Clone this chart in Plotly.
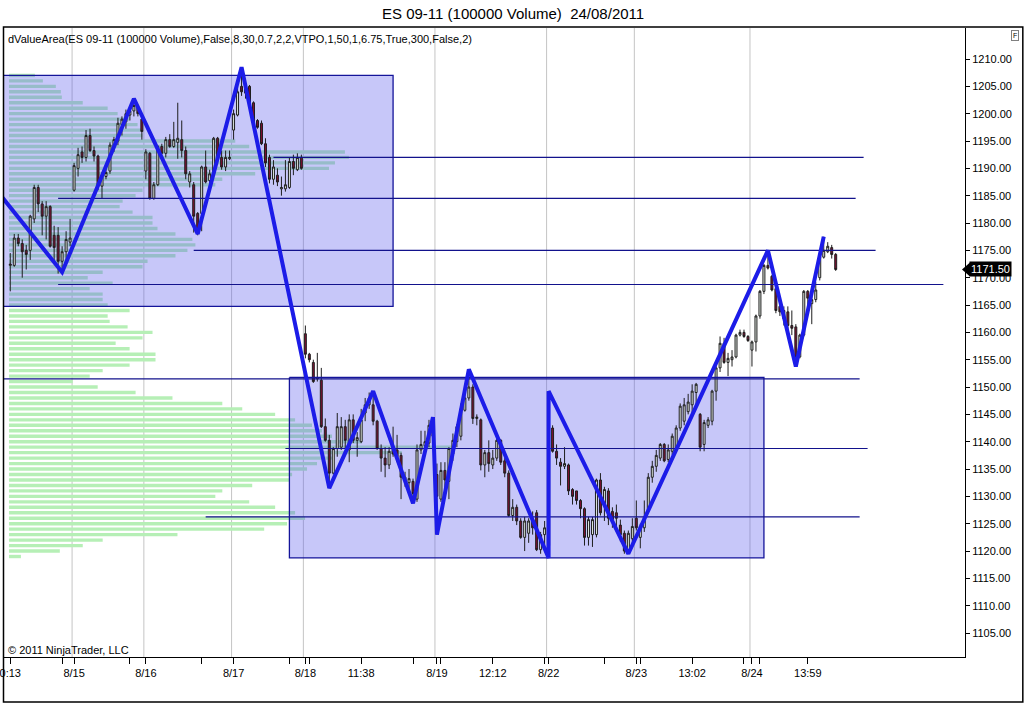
import plotly.graph_objects as go

# ---- price bars (one candle per 100000-volume bar) ----
bar_open = [
    1172.25, 1172.25, 1177.25, 1176.25, 1175.0, 1175.0, 1180.75, 1186.5, 1183.5, 1181.25,
    1183.0, 1177.75, 1177.75, 1173.0, 1174.75, 1176.5, 1186.0, 1190.0, 1193.0, 1192.0,
    1196.0, 1193.25, 1192.25, 1186.75, 1188.5, 1189.5, 1194.0, 1195.0, 1198.0, 1198.5,
    1199.75, 1200.5, 1201.25, 1199.0, 1189.5, 1192.75, 1184.5, 1187.0, 1194.0, 1192.75,
    1195.25, 1194.0, 1194.75, 1195.25, 1193.25, 1187.5, 1187.0, 1181.75, 1181.75, 1190.25,
    1187.75, 1189.0, 1195.5, 1192.0, 1190.25, 1191.75, 1197.0, 1199.75, 1205.0, 1203.75,
    1205.0, 1202.0, 1198.75, 1198.25, 1194.5, 1192.0, 1188.0, 1188.75, 1186.25, 1186.25,
    1186.5, 1191.25, 1189.75, 1192.0, 1159.75, 1156.0, 1154.5, 1151.5, 1151.25, 1142.75,
    1140.25, 1134.25, 1138.75, 1139.0, 1142.75, 1138.5, 1144.0, 1140.25, 1140.0, 1145.25,
    1146.75, 1146.75, 1143.75, 1138.75, 1137.0, 1135.75, 1139.0, 1138.5, 1137.5, 1133.5,
    1132.5, 1132.75, 1129.5, 1138.5, 1139.25, 1139.75, 1143.0, 1134.0, 1129.5, 1134.75,
    1132.75, 1137.75, 1140.0, 1141.0, 1145.75, 1148.0, 1150.0, 1144.25, 1144.0, 1135.75,
    1138.0, 1135.75, 1137.0, 1140.25, 1136.5, 1134.25, 1126.5, 1128.0, 1125.5, 1122.5,
    1123.25, 1125.5, 1127.0, 1120.25, 1123.0, 1121.0, 1142.5, 1138.25, 1136.25, 1135.5,
    1135.75, 1131.25, 1131.0, 1129.25, 1127.75, 1122.5, 1123.0, 1123.0, 1133.0, 1128.5,
    1131.0, 1127.25, 1127.0, 1124.75, 1123.25, 1120.25, 1122.25, 1126.0, 1122.5, 1124.25,
    1127.5, 1133.5, 1135.5, 1137.0, 1139.5, 1136.75, 1138.25, 1138.75, 1142.5, 1143.75,
    1145.5, 1146.75, 1149.0, 1145.0, 1139.5, 1143.0, 1143.75, 1149.25, 1153.5, 1158.0,
    1154.5, 1155.0, 1155.5, 1159.5, 1160.0, 1159.25, 1156.75, 1158.25, 1163.0, 1167.5,
    1172.25, 1170.25, 1168.0, 1164.75, 1164.0, 1163.75, 1161.25, 1161.0, 1155.5, 1159.5,
    1167.5, 1165.25, 1166.0, 1170.0, 1173.75, 1174.75, 1175.5, 1174.25,
]
bar_high = [
    1174.5, 1178.0, 1178.0, 1177.0, 1176.0, 1181.5, 1187.0, 1187.0, 1184.0, 1184.0,
    1183.25, 1179.5, 1179.25, 1175.75, 1178.5, 1180.75, 1191.0, 1193.75, 1194.0, 1197.0,
    1197.25, 1194.0, 1192.5, 1189.25, 1190.0, 1194.75, 1195.75, 1199.25, 1199.5, 1200.75,
    1201.25, 1202.75, 1201.5, 1200.0, 1193.5, 1193.0, 1187.5, 1194.25, 1194.5, 1195.75,
    1196.25, 1198.5, 1202.0, 1198.75, 1194.0, 1189.5, 1187.5, 1182.0, 1190.5, 1193.25,
    1189.75, 1195.75, 1195.75, 1193.25, 1193.25, 1193.25, 1200.75, 1205.0, 1208.5, 1205.25,
    1205.25, 1202.25, 1199.0, 1198.75, 1195.5, 1192.5, 1191.5, 1190.0, 1188.5, 1191.5,
    1192.0, 1192.5, 1192.75, 1192.5, 1161.25, 1156.25, 1155.0, 1156.25, 1153.5, 1144.25,
    1141.25, 1139.0, 1145.25, 1144.5, 1144.0, 1145.0, 1145.0, 1141.75, 1146.0, 1148.0,
    1149.0, 1149.25, 1144.0, 1139.5, 1139.0, 1139.0, 1142.75, 1141.25, 1138.0, 1134.5,
    1135.0, 1133.25, 1139.5, 1142.0, 1142.0, 1144.0, 1144.5, 1136.0, 1136.25, 1136.25,
    1139.0, 1141.5, 1143.25, 1147.0, 1150.5, 1153.25, 1150.5, 1145.0, 1144.25, 1138.5,
    1140.25, 1138.5, 1141.5, 1140.5, 1137.0, 1134.75, 1129.5, 1128.5, 1126.0, 1126.25,
    1126.0, 1127.25, 1127.5, 1123.5, 1125.5, 1149.25, 1143.0, 1139.5, 1137.0, 1139.0,
    1136.0, 1131.5, 1131.0, 1129.5, 1128.0, 1126.25, 1126.25, 1133.25, 1134.25, 1131.75,
    1131.5, 1128.0, 1128.5, 1125.75, 1123.75, 1123.75, 1126.0, 1129.25, 1125.0, 1129.25,
    1134.25, 1136.5, 1138.5, 1139.75, 1139.75, 1139.5, 1141.5, 1143.0, 1147.0, 1148.0,
    1148.75, 1150.5, 1150.75, 1145.25, 1144.0, 1144.5, 1149.5, 1154.0, 1159.25, 1159.0,
    1156.25, 1156.75, 1159.75, 1160.5, 1160.5, 1159.5, 1158.5, 1163.25, 1167.75, 1172.5,
    1175.0, 1170.5, 1168.5, 1165.0, 1164.75, 1164.75, 1164.0, 1161.5, 1159.75, 1167.75,
    1167.75, 1166.5, 1169.25, 1174.0, 1177.5, 1176.5, 1176.0, 1174.5,
]
bar_low = [
    1167.5, 1172.0, 1175.75, 1170.0, 1171.5, 1173.25, 1180.0, 1182.0, 1177.75, 1177.0,
    1175.5, 1172.5, 1170.75, 1170.75, 1173.25, 1175.75, 1185.75, 1188.5, 1191.0, 1191.25,
    1193.0, 1191.25, 1186.0, 1184.5, 1188.0, 1189.0, 1193.0, 1194.25, 1196.0, 1197.25,
    1198.75, 1199.5, 1199.5, 1195.25, 1188.0, 1184.25, 1184.25, 1186.75, 1192.5, 1192.0,
    1193.75, 1193.75, 1191.75, 1192.0, 1188.0, 1186.5, 1178.25, 1177.75, 1178.5, 1187.25,
    1185.75, 1188.75, 1191.5, 1189.75, 1189.5, 1191.5, 1195.25, 1199.5, 1203.25, 1202.75,
    1201.25, 1198.0, 1197.25, 1194.25, 1190.25, 1187.25, 1187.0, 1186.75, 1185.0, 1185.75,
    1186.25, 1188.75, 1189.5, 1189.75, 1155.25, 1154.5, 1150.75, 1151.0, 1142.5, 1140.0,
    1131.5, 1134.0, 1137.25, 1138.5, 1138.75, 1136.25, 1139.75, 1137.25, 1139.75, 1143.75,
    1146.0, 1143.0, 1138.5, 1134.5, 1133.5, 1135.0, 1137.25, 1136.25, 1129.5, 1131.75,
    1130.5, 1128.75, 1129.0, 1137.75, 1137.75, 1139.0, 1140.5, 1123.0, 1129.0, 1131.25,
    1129.5, 1136.5, 1139.0, 1140.25, 1145.5, 1147.5, 1143.25, 1143.0, 1134.75, 1133.5,
    1134.5, 1135.0, 1136.5, 1135.75, 1133.5, 1126.25, 1125.5, 1124.75, 1122.25, 1120.0,
    1121.5, 1123.0, 1120.0, 1119.5, 1121.0, 1118.75, 1138.0, 1135.75, 1132.0, 1135.0,
    1130.25, 1128.5, 1128.5, 1126.0, 1121.0, 1121.0, 1120.75, 1122.5, 1126.5, 1125.5,
    1124.75, 1124.25, 1123.5, 1121.75, 1119.5, 1119.5, 1120.75, 1123.75, 1120.5, 1123.5,
    1127.25, 1132.5, 1134.5, 1136.5, 1136.25, 1136.25, 1137.5, 1138.25, 1142.0, 1143.0,
    1145.0, 1145.0, 1146.75, 1138.25, 1138.25, 1142.5, 1143.0, 1147.5, 1152.75, 1154.25,
    1152.0, 1153.75, 1155.25, 1159.25, 1159.0, 1158.25, 1153.75, 1156.5, 1162.5, 1167.0,
    1171.5, 1167.5, 1163.5, 1163.0, 1161.25, 1159.0, 1159.5, 1153.75, 1155.25, 1159.25,
    1164.0, 1161.5, 1165.5, 1169.5, 1173.5, 1174.5, 1173.5, 1171.25,
]
bar_close = [
    1172.5, 1177.25, 1176.25, 1174.75, 1174.25, 1181.25, 1186.5, 1183.5, 1181.25, 1183.0,
    1175.75, 1175.5, 1173.0, 1174.75, 1177.0, 1177.25, 1190.5, 1192.5, 1192.0, 1196.0,
    1193.25, 1192.25, 1186.75, 1188.5, 1189.25, 1194.25, 1195.25, 1198.25, 1199.0, 1200.0,
    1200.5, 1201.5, 1200.0, 1196.75, 1193.0, 1184.5, 1187.0, 1194.0, 1192.75, 1195.25,
    1194.0, 1195.25, 1195.5, 1193.25, 1189.0, 1189.0, 1181.25, 1178.25, 1190.25, 1187.5,
    1189.0, 1195.5, 1192.0, 1190.25, 1192.0, 1192.0, 1200.0, 1204.0, 1204.0, 1204.5,
    1201.5, 1198.25, 1197.5, 1194.5, 1191.0, 1188.0, 1190.25, 1187.5, 1186.5, 1187.0,
    1191.25, 1190.0, 1192.0, 1190.0, 1156.0, 1155.0, 1151.0, 1151.75, 1142.75, 1140.25,
    1134.25, 1138.75, 1142.75, 1142.75, 1140.25, 1144.0, 1140.25, 1140.75, 1144.0, 1146.75,
    1148.0, 1143.75, 1138.75, 1137.0, 1135.75, 1138.25, 1137.75, 1137.25, 1133.5, 1133.0,
    1133.25, 1130.5, 1138.5, 1139.5, 1140.0, 1143.0, 1141.0, 1130.0, 1134.75, 1133.0,
    1138.75, 1140.25, 1142.75, 1146.0, 1148.0, 1150.0, 1144.25, 1144.5, 1135.75, 1138.0,
    1136.0, 1137.0, 1140.25, 1136.25, 1134.25, 1126.5, 1128.0, 1125.5, 1122.5, 1125.5,
    1125.5, 1124.25, 1120.25, 1123.0, 1124.25, 1142.5, 1138.25, 1137.0, 1135.5, 1136.0,
    1131.0, 1130.0, 1129.25, 1127.75, 1122.5, 1125.75, 1125.75, 1133.0, 1127.0, 1131.25,
    1126.0, 1125.75, 1126.0, 1123.0, 1120.0, 1123.25, 1124.5, 1124.25, 1124.25, 1126.25,
    1133.5, 1135.5, 1137.5, 1139.5, 1136.5, 1138.5, 1141.0, 1142.5, 1146.5, 1146.75,
    1147.25, 1149.25, 1150.5, 1139.0, 1143.5, 1144.0, 1149.25, 1153.5, 1158.0, 1154.5,
    1155.25, 1155.5, 1159.5, 1160.0, 1159.25, 1158.5, 1158.25, 1163.0, 1167.5, 1172.25,
    1171.75, 1167.75, 1164.0, 1163.75, 1162.5, 1161.25, 1160.75, 1155.5, 1159.5, 1167.5,
    1166.25, 1166.0, 1167.75, 1173.75, 1175.0, 1175.75, 1174.25, 1171.5,
]
bars = list(range(len(bar_close)))

# ---- volume profile (price level -> relative volume) ----
profile_price = list(range(1207, 1118, -1))
profile_volume = [
    26, 34, 47, 52, 53, 74, 99, 109, 121, 129,
    134, 134, 227, 241, 337, 341, 327, 321, 247, 214,
    207, 134, 127, 114, 111, 124, 144, 144, 149, 167,
    184, 187, 179, 167, 139, 134, 94, 79, 104, 81,
    94, 94, 99, 121, 99, 101, 119, 144, 134, 107,
    121, 147, 147, 121, 94, 81, 64, 89, 127, 164,
    214, 234, 267, 287, 304, 314, 324, 354, 444, 394,
    324, 309, 299, 284, 281, 244, 214, 207, 241, 267,
    287, 297, 279, 256, 169, 94, 74, 51, 12,
]

# ---- value area boxes ----
box_top = [1207.0, 1151.75]
box_bottom = [1164.75, 1118.75]
box_start = [-4, 70]
box_end = [96, 189]

# ---- extended levels (price, first bar, last bar) ----
level_price = [1192.0, 1184.5, 1175.0, 1168.75, 1151.5, 1138.75, 1126.25]
level_start = [66, 12, 46, 12, -4, 69, 49]
level_end = [214, 212, 217, 234, 213, 215, 213]

# ---- zigzag pivots ----
zz_bar = [-4, 13, 31, 47, 58, 80, 91, 101, 106, 107, 115, 135, 135, 155, 190, 197, 204]
zz_price = [1186.5, 1171.0, 1202.75, 1178.0, 1208.5, 1131.5, 1149.25, 1128.75, 1144.5,
            1123.0, 1153.25, 1118.75, 1149.25, 1119.5, 1175.0, 1153.75, 1177.5]

# ---- x axis labels ----
x_tick_bars = [0, 16, 34, 56, 74, 88, 107, 121, 135, 157, 171, 186, 200]
x_tick_labels = ['0:13', '8/15', '8/16', '8/17', '8/18', '11:38', '8/19', '12:12',
                 '8/22', '8/23', '13:02', '8/24', '13:59']
x_minor_bars = [13, 30, 48, 70, 75, 101, 108, 134, 149, 158, 184, 188]
y_ticks = list(range(1105, 1211, 5))

FONT = 'Liberation Sans, Arial, sans-serif'
PLOT_W, PLOT_H, PLOT_BOTTOM = 965, 629, 657
X_RANGE = [-1.825, 239.425]
Y_RANGE = [1100.62, 1215.67]


def px_x(p):
    return p / PLOT_W


def px_y(p):
    return (PLOT_BOTTOM - p) / PLOT_H


fig = go.Figure()

# profile underneath everything
fig.add_trace(go.Bar(
    y=profile_price, x=profile_volume, orientation='h', width=0.62,
    marker=dict(color='#b6efb6', line=dict(width=0)),
    xaxis='x', yaxis='y', hoverinfo='skip', showlegend=False,
))

# box fills (separate subplot layer so they tint the profile but sit under candles)
bx, by = [], []
for s, e, t, b in zip(box_start, box_end, box_top, box_bottom):
    bx += [s, e, e, s, s, None]
    by += [t, t, b, b, t, None]
fig.add_trace(go.Scatter(
    x=bx, y=by, mode='lines', fill='toself', fillcolor='rgba(92,92,236,0.34)',
    line=dict(width=0), xaxis='x2', yaxis='y', hoverinfo='skip', showlegend=False,
))

fig.add_trace(go.Candlestick(
    x=bars, open=bar_open, high=bar_high, low=bar_low, close=bar_close,
    increasing=dict(fillcolor='#e6eee6', line=dict(color='#1e1e1e', width=1)),
    decreasing=dict(fillcolor='#7e1032', line=dict(color='#1e1e1e', width=1)),
    whiskerwidth=0, xaxis='x3', yaxis='y', hoverinfo='skip', showlegend=False,
))

# box outlines
fig.add_trace(go.Scatter(
    x=bx, y=by, mode='lines', line=dict(color='#14149a', width=1.3),
    xaxis='x3', yaxis='y', hoverinfo='skip', showlegend=False,
))

# level lines
lx, ly = [], []
for p, s, e in zip(level_price, level_start, level_end):
    lx += [s, e, None]
    ly += [p, p, None]
fig.add_trace(go.Scatter(
    x=lx, y=ly, mode='lines', line=dict(color='#12128c', width=1.1),
    xaxis='x3', yaxis='y', hoverinfo='skip', showlegend=False,
))

# zigzag
fig.add_trace(go.Scatter(
    x=zz_bar, y=zz_price, mode='lines', line=dict(color='#1c1ce8', width=4),
    xaxis='x3', yaxis='y', hoverinfo='skip', showlegend=False,
))

shapes = []
# vertical session grid lines
for b, lab in zip(x_tick_bars, x_tick_labels):
    if '/' in lab:
        shapes.append(dict(type='line', xref='x3', yref='paper', x0=b - 0.5, x1=b - 0.5,
                           y0=0, y1=1, layer='below', line=dict(color='#c4c4c4', width=1)))
# outer frame
shapes.append(dict(type='rect', xref='paper', yref='paper', x0=px_x(0.5), x1=px_x(1023),
                   y0=px_y(702), y1=px_y(27), line=dict(color='#000000', width=1.5)))
# last price marker arrow
last = bar_close[-1]
ly_paper = (last - Y_RANGE[0]) / (Y_RANGE[1] - Y_RANGE[0])
shapes.append(dict(type='path', xref='paper', yref='paper',
                   path=f'M {px_x(962)},{ly_paper} L {px_x(970)},{ly_paper + 7 / PLOT_H} '
                        f'L {px_x(970)},{ly_paper - 7 / PLOT_H} Z',
                   fillcolor='#000000', line=dict(width=0)))

annotations = [
    dict(text='ES 09-11 (100000 Volume)&nbsp; 24/08/2011', xref='paper', yref='paper',
         x=px_x(512), y=px_y(13), showarrow=False, xanchor='center', yanchor='middle',
         font=dict(family=FONT, size=15, color='#000000')),
    dict(text='dValueArea(ES 09-11 (100000 Volume),False,8,30,0.7,2,2,VTPO,1,50,1,6.75,True,300,False,2)',
         xref='paper', yref='paper', x=px_x(3), y=px_y(39), showarrow=False,
         xanchor='left', yanchor='middle', font=dict(family=FONT, size=11, color='#000000')),
    dict(text='© 2011 NinjaTrader, LLC', xref='paper', yref='paper', x=px_x(3), y=px_y(650),
         showarrow=False, xanchor='left', yanchor='middle',
         font=dict(family=FONT, size=11, color='#000000')),
    dict(text=f'{last:.2f}', xref='paper', yref='y', x=px_x(969), y=last, showarrow=False,
         xanchor='left', yanchor='middle', bgcolor='#000000', borderpad=1,
         font=dict(family=FONT, size=11, color='#ffffff')),
    dict(text='F', xref='paper', yref='paper', x=px_x(1015), y=px_y(35), showarrow=False,
         xanchor='center', yanchor='middle', bordercolor='#808080', borderwidth=1, borderpad=1,
         font=dict(family=FONT, size=7, color='#000000')),
]

fig.update_layout(
    width=1024, height=703,
    margin=dict(l=0, r=59, t=28, b=46),
    paper_bgcolor='#ffffff', plot_bgcolor='#ffffff',
    showlegend=False,
    font=dict(family=FONT, size=11, color='#000000'),
    xaxis=dict(range=[-6, 959], visible=False, fixedrange=True),
    xaxis2=dict(overlaying='x', range=X_RANGE, visible=False, fixedrange=True),
    xaxis3=dict(
        overlaying='x', anchor='y', side='bottom', range=X_RANGE,
        tickvals=x_tick_bars + x_minor_bars,
        ticktext=x_tick_labels + [''] * len(x_minor_bars),
        ticks='outside', ticklen=6, tickcolor='#000000',
        showline=True, linecolor='#000000', linewidth=1,
        showgrid=False, zeroline=False, rangeslider=dict(visible=False),
        ticklabeloverflow='allow',
        tickfont=dict(family=FONT, size=11, color='#000000'),
    ),
    yaxis=dict(
        side='right', range=Y_RANGE, tickvals=y_ticks, tickformat='.2f',
        ticks='outside', ticklen=4, tickcolor='#000000',
        showline=True, linecolor='#000000', linewidth=1,
        showgrid=False, zeroline=False,
        tickfont=dict(family=FONT, size=11, color='#000000'),
    ),
    shapes=shapes,
    annotations=annotations,
)

# the page's default body margin would push the chart 8px off the window
fig.write_html('out.html', config={'displayModeBar': False},
               post_script="document.body.style.margin='0';")
